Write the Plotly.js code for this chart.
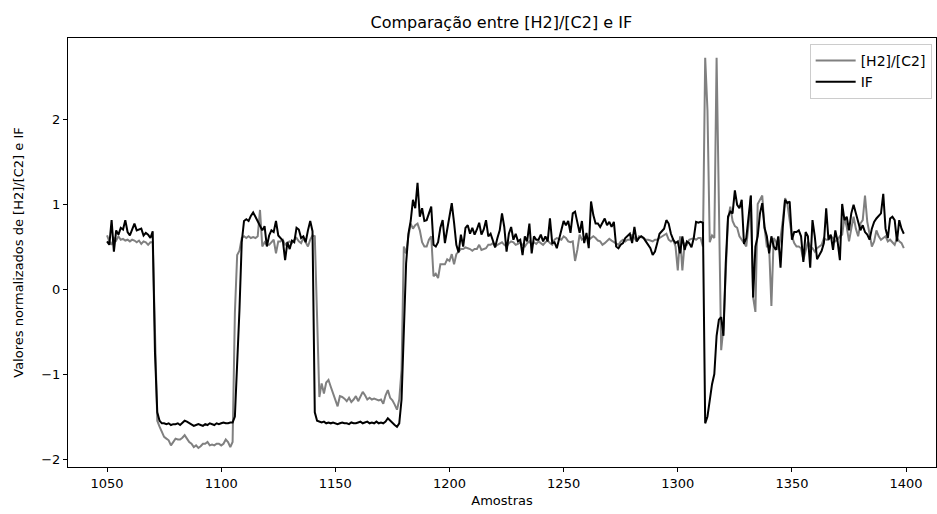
<!DOCTYPE html>
<html>
<head>
<meta charset="utf-8">
<script src="https://cdn.plot.ly/plotly-3.0.1.min.js"></script>
<style>html,body{margin:0;padding:0;background:#fff;}#chart{width:937px;height:514px;}</style>
</head>
<body>
<div id="chart"></div>
<script>
const firstSample = 1050;
const seriesNames = ["[H2]/[C2]", "IF"];
const xTicks = [1050, 1100, 1150, 1200, 1250, 1300, 1350, 1400];
const yTicks = [-2, -1, 0, 1, 2];

const h2c2 = [
  0.63, 0.56, 0.52, 0.60, 0.57, 0.62, 0.58, 0.59, 0.57, 0.58,
  0.56, 0.58, 0.57, 0.55, 0.57, 0.53, 0.56, 0.55, 0.52, 0.55,
  0.55, -0.50, -1.55, -1.62, -1.68, -1.74, -1.76, -1.78, -1.84, -1.80,
  -1.76, -1.77, -1.77, -1.75, -1.72, -1.76, -1.80, -1.82, -1.86, -1.84,
  -1.87, -1.85, -1.82, -1.82, -1.80, -1.84, -1.83, -1.84, -1.82, -1.82,
  -1.84, -1.82, -1.77, -1.80, -1.86, -1.80, -0.28, 0.40, 0.45, 0.60,
  0.62, 0.60, 0.62, 0.60, 0.61, 0.60, 0.62, 0.93, 0.50, 0.55,
  0.52, 0.52, 0.55, 0.58, 0.42, 0.56, 0.56, 0.58, 0.52, 0.55,
  0.56, 0.54, 0.58, 0.60, 0.56, 0.54, 0.60, 0.55, 0.50, 0.58,
  0.63, 0.62, -0.30, -1.27, -1.11, -1.23, -1.10, -1.07, -1.15, -1.22,
  -1.30, -1.38, -1.26, -1.27, -1.29, -1.32, -1.28, -1.33, -1.30, -1.26,
  -1.32, -1.27, -1.21, -1.25, -1.30, -1.28, -1.30, -1.29, -1.30, -1.31,
  -1.30, -1.35, -1.25, -1.19, -1.28, -1.31, -1.36, -1.42, -1.30, -0.95,
  0.50, 0.42, 0.62, 0.77, 0.71, 0.75, 0.77, 0.69, 0.55, 0.50,
  0.50, 0.58, 0.62, 0.15, 0.18, 0.13, 0.29, 0.29, 0.29, 0.35,
  0.33, 0.41, 0.29, 0.41, 0.44, 0.47, 0.47, 0.49, 0.48, 0.47,
  0.45, 0.47, 0.47, 0.52, 0.46, 0.47, 0.48, 0.52, 0.52, 0.54,
  0.50, 0.52, 0.54, 0.55, 0.52, 0.50, 0.54, 0.56, 0.55, 0.52,
  0.53, 0.55, 0.52, 0.50, 0.54, 0.56, 0.52, 0.55, 0.53, 0.56,
  0.54, 0.52, 0.55, 0.57, 0.54, 0.52, 0.58, 0.60, 0.59, 0.58,
  0.62, 0.60, 0.56, 0.55, 0.56, 0.33, 0.46, 0.64, 0.58, 0.60,
  0.62, 0.58, 0.60, 0.62, 0.60, 0.57, 0.56, 0.52, 0.54, 0.56,
  0.59, 0.57, 0.55, 0.54, 0.52, 0.56, 0.58, 0.56, 0.58, 0.58,
  0.64, 0.60, 0.56, 0.62, 0.61, 0.60, 0.58, 0.58, 0.57, 0.56,
  0.58, 0.58, 0.60, 0.62, 0.63, 0.65, 0.58, 0.56, 0.58, 0.50,
  0.22, 0.62, 0.22, 0.54, 0.52, 0.58, 0.59, 0.60, 0.58, 0.60,
  0.60, 0.50, 2.72, 2.10, 0.55, 0.63, 0.60, 2.72, 1.00, -0.72,
  -0.45, 0.30, 0.82, 0.97, 0.80, 0.74, 0.72, 0.62, 0.58, 0.54,
  0.50, 0.75, 1.10, -0.10, -0.27, 1.00, 1.05, 1.10, 0.72, 0.50,
  0.50, -0.20, 0.60, 0.56, 0.46, 0.60, 0.81, 1.07, 1.00, 0.80,
  0.62, 0.54, 0.50, 0.50, 0.48, 0.34, 0.45, 0.56, 0.50, 0.48,
  0.44, 0.48, 0.50, 0.52, 0.60, 0.58, 0.58, 0.62, 0.60, 0.56,
  0.58, 0.62, 0.64, 0.84, 0.73, 0.56, 0.71, 0.85, 0.71, 0.62,
  0.77, 0.81, 1.10, 0.79, 0.65, 0.50, 0.56, 0.69, 0.62, 0.58,
  0.60, 0.62, 0.56, 0.58, 0.55, 0.52, 0.60, 0.56, 0.54, 0.48
];

const ifValues = [
  0.56, 0.52, 0.81, 0.44, 0.69, 0.64, 0.72, 0.70, 0.81, 0.67,
  0.63, 0.70, 0.77, 0.69, 0.70, 0.71, 0.63, 0.66, 0.64, 0.60,
  0.68, -0.75, -1.45, -1.55, -1.58, -1.58, -1.59, -1.58, -1.60, -1.59,
  -1.59, -1.58, -1.60, -1.57, -1.55, -1.56, -1.58, -1.60, -1.61, -1.60,
  -1.59, -1.60, -1.61, -1.59, -1.60, -1.58, -1.59, -1.60, -1.58, -1.59,
  -1.58, -1.57, -1.58, -1.58, -1.57, -1.57, -1.50, -0.95, -0.25, 0.55,
  0.80, 0.82, 0.80, 0.86, 0.90, 0.85, 0.80, 0.74, 0.69, 0.74,
  0.50, 0.63, 0.69, 0.67, 0.80, 0.63, 0.60, 0.57, 0.34, 0.55,
  0.47, 0.57, 0.55, 0.72, 0.70, 0.60, 0.62, 0.55, 0.69, 0.80,
  0.68, -1.45, -1.55, -1.56, -1.57, -1.56, -1.58, -1.57, -1.58, -1.57,
  -1.58, -1.59, -1.58, -1.57, -1.58, -1.58, -1.59, -1.57, -1.58, -1.58,
  -1.57, -1.56, -1.58, -1.57, -1.56, -1.58, -1.57, -1.58, -1.56, -1.58,
  -1.57, -1.58, -1.56, -1.52, -1.55, -1.58, -1.60, -1.62, -1.58, -1.30,
  -0.50, 0.30, 0.65, 0.80, 1.05, 0.95, 1.25, 0.85, 0.95, 0.80,
  0.81, 0.88, 0.97, 0.52, 0.50, 0.55, 0.72, 0.81, 0.54, 0.70,
  0.87, 1.01, 0.78, 0.52, 0.43, 0.64, 0.50, 0.72, 0.75, 0.65,
  0.72, 0.64, 0.70, 0.78, 0.64, 0.70, 0.81, 0.62, 0.65, 0.58,
  0.49, 0.60, 0.69, 0.89, 0.73, 0.44, 0.65, 0.73, 0.58, 0.65,
  0.56, 0.58, 0.40, 0.62, 0.56, 0.77, 0.42, 0.62, 0.58, 0.58,
  0.64, 0.56, 0.62, 0.56, 0.83, 0.54, 0.55, 0.48, 0.60, 0.72,
  0.80, 0.75, 0.80, 0.66, 0.89, 0.91, 0.79, 0.66, 0.80, 0.54,
  0.66, 0.48, 1.03, 0.87, 0.77, 0.77, 0.73, 0.79, 0.83, 0.75,
  0.79, 0.73, 0.79, 0.50, 0.48, 0.52, 0.54, 0.60, 0.63, 0.65,
  0.54, 0.73, 0.56, 0.60, 0.62, 0.60, 0.56, 0.52, 0.48, 0.40,
  0.44, 0.54, 0.65, 0.68, 0.71, 0.81, 0.77, 0.65, 0.58, 0.54,
  0.56, 0.42, 0.62, 0.46, 0.56, 0.54, 0.49, 0.60, 0.79, 0.78,
  0.79, 0.78, -1.58, -1.50, -1.30, -1.12, -1.00, -0.55, -0.36, -0.33,
  -0.55, 0.30, 0.85, 0.91, 0.89, 1.16, 0.99, 0.95, 1.05, 0.53,
  0.60, 0.82, 1.10, -0.10, 0.50, 0.62, 0.89, 1.01, 0.72, 0.62,
  0.42, 0.62, 0.50, 0.46, 0.62, 0.25, 0.73, 1.05, 1.01, 1.03,
  0.58, 0.67, 0.67, 0.69, 0.62, 0.32, 0.67, 0.62, 0.25, 0.81,
  0.62, 0.35, 0.40, 0.45, 0.54, 0.95, 0.58, 0.64, 0.46, 0.69,
  0.56, 0.34, 1.00, 0.81, 0.85, 0.69, 0.89, 0.99, 0.89, 0.77,
  0.69, 0.75, 0.67, 0.64, 0.58, 0.71, 0.79, 0.83, 0.86, 0.89,
  1.12, 0.71, 0.60, 0.83, 0.85, 0.81, 0.56, 0.81, 0.71, 0.65
];

const samples = h2c2.map((_, k) => firstSample + k);

const font = "DejaVu Sans, sans-serif";
const traces = [
  {x: samples, y: h2c2, name: seriesNames[0], type: "scatter", mode: "lines",
   line: {color: "#808080", width: 2}},
  {x: samples, y: ifValues, name: seriesNames[1], type: "scatter", mode: "lines",
   line: {color: "#000000", width: 2}}
];

const layout = {
  width: 937, height: 514,
  margin: {l: 68, r: 1, t: 38, b: 47},
  paper_bgcolor: "#fff", plot_bgcolor: "#fff",
  font: {family: font, size: 13, color: "#000"},
  title: {text: "Comparação entre [H2]/[C2] e IF", font: {family: font, size: 16, color: "#000"},
          x: 0.535, xanchor: "center", y: 0.957, yanchor: "middle", yref: "container"},
  xaxis: {
    range: [1032.9, 1413.1], tickvals: xTicks, ticktext: xTicks.map(String),
    showgrid: false, zeroline: false, showline: true, linecolor: "#000", linewidth: 1, mirror: true,
    ticks: "outside", ticklen: 4, tickcolor: "#000", tickfont: {family: font, size: 13},
    title: {text: "Amostras", font: {family: font, size: 13}, standoff: 6}
  },
  yaxis: {
    range: [-2.094, 2.953], tickvals: yTicks,
    showgrid: false, zeroline: false, showline: true, linecolor: "#000", linewidth: 1, mirror: true,
    ticks: "outside", ticklen: 4, tickcolor: "#000", tickfont: {family: font, size: 13},
    title: {text: "Valores normalizados de [H2]/[C2] e IF", font: {family: font, size: 13}, standoff: 14}
  },
  showlegend: true,
  legend: {x: 0.995, xanchor: "right", y: 0.986, yanchor: "top",
           bgcolor: "rgba(255,255,255,0.8)", bordercolor: "#cccccc", borderwidth: 1,
           font: {family: font, size: 14}, tracegroupgap: 0, itemwidth: 40}
};

Plotly.newPlot("chart", traces, layout, {staticPlot: true, displayModeBar: false});
</script>
</body>
</html>
